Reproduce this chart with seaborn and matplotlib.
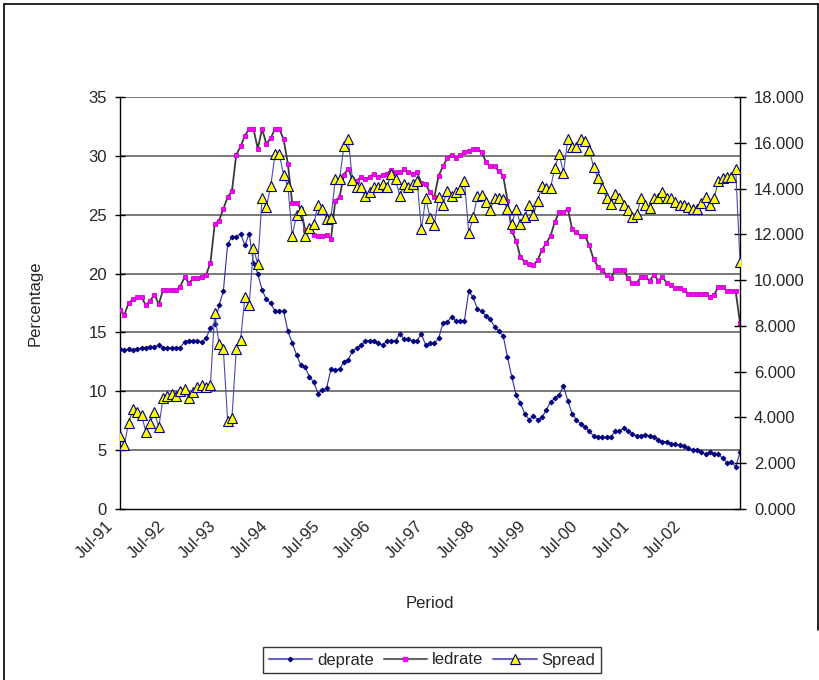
import numpy as np
import pandas as pd
import matplotlib
matplotlib.use("Agg")
import matplotlib.pyplot as plt
from matplotlib.lines import Line2D
from matplotlib.transforms import ScaledTranslation
import seaborn as sns

# Monthly observations, Jul-91 .. Jul-03 (145 months)
deprate = [
    13.6, 13.5, 13.6, 13.5, 13.6, 13.7, 13.7, 13.8, 13.8, 13.9,
    13.7, 13.7, 13.7, 13.7, 13.7, 14.2, 14.3, 14.3, 14.3, 14.2,
    14.5, 15.4, 15.7, 17.3, 18.5, 22.5, 23.1, 23.1, 23.4, 22.4,
    23.4, 20.9, 20.0, 18.6, 17.8, 17.5, 16.8, 16.8, 16.8, 15.1,
    14.1, 13.1, 12.2, 12.1, 11.2, 10.8, 9.8, 10.1, 10.3, 11.9,
    11.8, 11.9, 12.5, 12.7, 13.4, 13.7, 13.9, 14.3, 14.3, 14.3,
    14.1, 13.9, 14.3, 14.3, 14.3, 14.9, 14.4, 14.4, 14.3, 14.3,
    14.9, 13.9, 14.1, 14.1, 14.5, 15.8, 15.9, 16.3, 16.0, 16.0,
    16.0, 18.5, 18.0, 17.0, 16.8, 16.4, 16.1, 15.5, 15.1, 14.7,
    12.9, 11.2, 9.7, 9.0, 8.1, 7.6, 7.9, 7.6, 7.8, 8.4,
    9.1, 9.4, 9.7, 10.45, 9.2, 8.1, 7.6, 7.2, 7.0, 6.6,
    6.2, 6.1, 6.1, 6.1, 6.1, 6.6, 6.6, 6.9, 6.6, 6.4,
    6.2, 6.2, 6.3, 6.2, 6.1, 5.9, 5.7, 5.7, 5.5, 5.5,
    5.4, 5.35, 5.2, 5.0, 5.0, 4.8, 4.65, 4.8, 4.7, 4.65,
    4.3, 3.95, 4.0, 3.6, 4.8,
]

ledrate = [
    16.9, 16.5, 17.5, 17.8, 18.0, 18.0, 17.3, 17.7, 18.2, 17.4,
    18.6, 18.6, 18.6, 18.6, 18.9, 19.7, 19.2, 19.6, 19.6, 19.7,
    19.9, 20.9, 24.2, 24.5, 25.5, 26.5, 27.0, 30.1, 30.8, 31.7,
    32.3, 32.3, 30.6, 32.3, 31.0, 31.5, 32.3, 32.3, 31.4, 29.3,
    26.0, 26.0, 25.5, 23.7, 23.6, 23.3, 23.2, 23.2, 23.3, 22.9,
    26.2, 26.5, 28.4, 28.9, 28.0, 27.9, 28.2, 28.0, 28.2, 28.5,
    28.2, 28.4, 28.5, 28.8, 28.6, 28.6, 28.9, 28.6, 28.5, 28.6,
    27.7, 27.6, 26.9, 26.5, 28.3, 29.1, 29.8, 30.1, 29.8, 30.1,
    30.3, 30.4, 30.6, 30.6, 30.3, 29.5, 29.1, 29.1, 28.7, 28.3,
    26.2, 23.6, 22.8, 21.4, 21.0, 20.8, 20.7, 21.15, 22.0, 22.6,
    23.2, 24.4, 25.2, 25.2, 25.5, 23.8, 23.5, 23.2, 23.2, 22.4,
    21.2, 20.6, 20.3, 19.9, 19.6, 20.3, 20.3, 20.3, 19.6, 19.2,
    19.2, 19.7, 19.7, 19.4, 19.9, 19.4, 19.7, 19.2, 19.0, 18.8,
    18.8, 18.6, 18.3, 18.3, 18.3, 18.3, 18.3, 18.0, 18.2, 18.9,
    18.9, 18.5, 18.5, 18.5, 15.8,
]

spread = [
    3.19, 2.8, 3.77, 4.35, 4.25, 4.1, 3.38, 3.74, 4.25, 3.57,
    4.84, 4.94, 5.02, 4.94, 5.17, 5.23, 4.84, 5.13, 5.32, 5.42,
    5.32, 5.42, 8.58, 7.21, 6.98, 3.86, 3.96, 6.98, 7.38, 9.25,
    8.91, 11.39, 10.7, 13.6, 13.2, 14.1, 15.5, 15.5, 14.6, 14.1,
    11.94, 12.84, 13.06, 11.94, 12.26, 12.44, 13.3, 13.1, 12.66, 12.73,
    14.4, 14.4, 15.86, 16.15, 14.37, 14.08, 14.08, 13.67, 13.86, 14.08,
    14.08, 14.18, 14.08, 14.62, 14.4, 13.67, 14.18, 14.08, 14.18, 14.33,
    12.22, 13.57, 12.73, 12.41, 13.64, 13.3, 13.9, 13.67, 13.86, 13.98,
    14.34, 12.04, 12.74, 13.67, 13.72, 13.4, 13.06, 13.6, 13.57, 13.54,
    13.1, 12.44, 13.1, 12.44, 12.74, 13.28, 12.84, 13.45, 14.1, 14.04,
    14.04, 14.91, 15.5, 14.69, 16.16, 15.8, 15.8, 16.16, 16.09, 15.68,
    14.93, 14.45, 14.04, 13.57, 13.32, 13.75, 13.57, 13.3, 13.06, 12.77,
    12.87, 13.57, 13.28, 13.14, 13.6, 13.6, 13.86, 13.57, 13.6, 13.43,
    13.28, 13.28, 13.18, 13.09, 13.1, 13.35, 13.64, 13.3, 13.6, 14.34,
    14.45, 14.52, 14.52, 14.84, 10.8,
]

year_labels = ["Jul-91", "Jul-92", "Jul-93", "Jul-94", "Jul-95", "Jul-96",
               "Jul-97", "Jul-98", "Jul-99", "Jul-00", "Jul-01", "Jul-02"]

left_ticks = [0, 5, 10, 15, 20, 25, 30, 35]
right_ticks = [0, 2, 4, 6, 8, 10, 12, 14, 16, 18]

df = pd.DataFrame({
    "month": np.arange(len(deprate)),
    "deprate": deprate,
    "ledrate": ledrate,
    "Spread": spread,
})

sns.set_style("white")
plt.rcParams["font.family"] = ["Liberation Sans", "DejaVu Sans"]
plt.rcParams["font.size"] = 12

fig = plt.figure(figsize=(8.2, 6.8), dpi=100)
W, H = 820, 680
ax = fig.add_axes([120 / W, 1 - 509 / H, 620 / W, 412 / H])
ax2 = ax.twinx()

# horizontal gridlines on the primary axis
for t in left_ticks[1:]:
    ax.axhline(t, color="#555555", lw=1.1, zorder=0)

sns.lineplot(data=df, x="month", y="deprate", ax=ax, color="#2e2e9a", lw=0.8,
             marker="D", markersize=2.4, markerfacecolor="#000080",
             markeredgecolor="#000080", zorder=3)
sns.lineplot(data=df, x="month", y="ledrate", ax=ax, color="#3a3a3a", lw=1.3,
             marker="s", markersize=3.0, markerfacecolor="#ff00ff",
             markeredgecolor="#cc00cc", markeredgewidth=0.6, zorder=4)
sns.lineplot(data=df, x="month", y="Spread", ax=ax2, color="#4b4bb0", lw=0.8,
             marker="^", markersize=6.6, markerfacecolor="#ffff00",
             markeredgecolor="#000080", markeredgewidth=0.8, zorder=5)

n = len(deprate)
ax.set_xlim(0, n - 1)
ax.set_ylim(0, 35)
ax2.set_ylim(0, 18)

ax.set_xticks(np.arange(0, n, 12))
ax.set_xticklabels(year_labels + [""], rotation=45, ha="right", fontsize=12)
ax.set_yticks(left_ticks)
ax.set_yticklabels([str(t) for t in left_ticks], fontsize=12)
ax2.set_yticks(right_ticks)
ax2.set_yticklabels([f"{t:.3f}" for t in right_ticks], fontsize=12)

ax.tick_params(axis="x", direction="out", length=5, width=1, color="black", pad=2)
ax.tick_params(axis="y", direction="inout", length=7, width=1, color="black", pad=6)
ax2.tick_params(axis="y", direction="inout", length=8, width=1, color="black", pad=6)

shift = ScaledTranslation(-4 / 100, 0, fig.dpi_scale_trans)
for lab in ax.get_xticklabels():
    lab.set_transform(lab.get_transform() + shift)

for a in (ax, ax2):
    a.spines["top"].set_visible(False)
    for s in ("left", "right", "bottom"):
        a.spines[s].set_color("black")
        a.spines[s].set_linewidth(1.0)
ax.spines["right"].set_visible(False)
ax2.spines["left"].set_visible(False)
ax2.spines["bottom"].set_visible(False)

ax.set_xlabel("")
ax.set_ylabel("")
ax2.set_ylabel("")
if ax.get_legend():
    ax.get_legend().remove()
if ax2.get_legend():
    ax2.get_legend().remove()

fig.text(430 / W, 1 - 603 / H, "Period", ha="center", va="center", fontsize=12)
fig.text(35 / W, 1 - 303 / H, "Percentage", ha="center", va="center",
         rotation=90, fontsize=12)

handles = [
    Line2D([], [], color="#6666bb", lw=1.5, marker="D", markersize=2.2,
           markerfacecolor="#000080", markeredgecolor="#000080"),
    Line2D([], [], color="#666666", lw=1.5, marker="s", markersize=3.0,
           markerfacecolor="#ff00ff", markeredgecolor="#ff00ff"),
    Line2D([], [], color="#6666bb", lw=1.5, marker="^", markersize=6.5,
           markerfacecolor="#ffff00", markeredgecolor="#000080",
           markeredgewidth=0.8),
]
leg = fig.legend(handles, ["deprate", "ledrate", "Spread"], ncol=3,
                 loc="center", bbox_to_anchor=(432 / W, 1 - 660 / H),
                 frameon=True, fancybox=False, fontsize=12, handlelength=2.6,
                 handletextpad=0.3, columnspacing=0.6, borderpad=0.35)
leg.get_frame().set_edgecolor("black")
leg.get_frame().set_linewidth(1.0)

# chart area outline
fig.add_artist(Line2D([4 / W, 4 / W], [0, 1 - 4 / H], transform=fig.transFigure,
                      color="black", lw=1.2))
fig.add_artist(Line2D([4 / W, 818 / W], [1 - 4 / H, 1 - 4 / H],
                      transform=fig.transFigure, color="black", lw=1.2))
fig.add_artist(Line2D([818 / W, 818 / W], [1 - 4 / H, 1 - 630 / H],
                      transform=fig.transFigure, color="black", lw=1.2))

fig.savefig("out.png", dpi=100, facecolor="white")
